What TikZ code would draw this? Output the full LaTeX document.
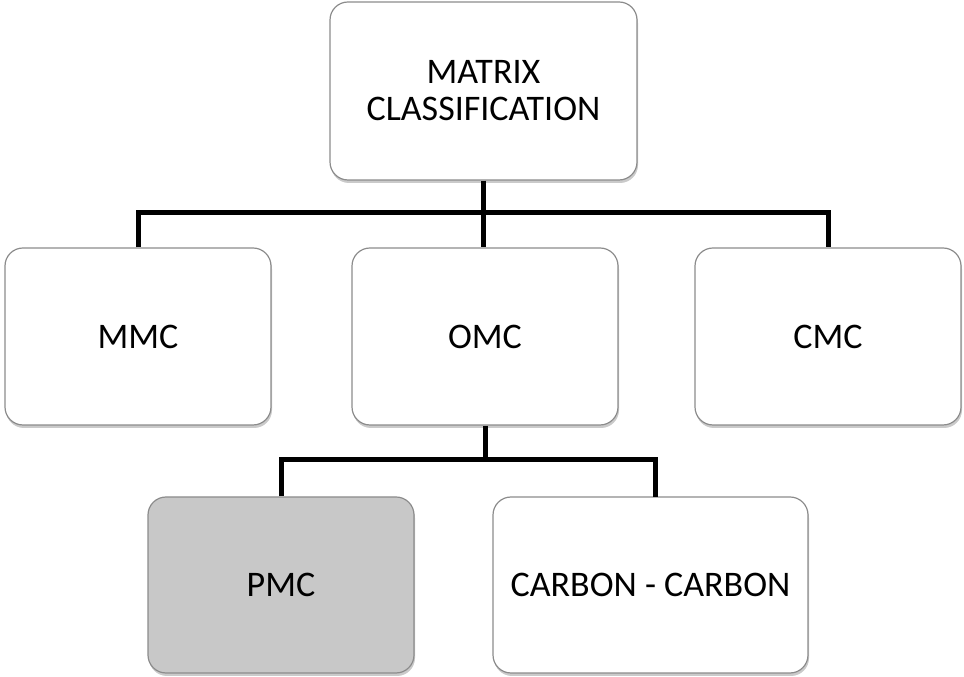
\documentclass[tikz,border=0pt]{standalone}
\usepackage{fontspec}
\setmainfont{Carlito}
\usetikzlibrary{shadows}
\definecolor{boxline}{HTML}{8C8C8C}
\definecolor{pmcgray}{HTML}{C8C8C8}

\begin{document}
\begin{tikzpicture}[x=1pt,y=1pt,
		box/.style={draw=boxline, line width=1.2pt, fill=white, rounded corners=18pt,
			minimum width=266pt, minimum height=177pt, align=center,
			font=\fontsize{36}{37}\selectfont,
			drop shadow={shadow xshift=1pt, shadow yshift=-3pt, opacity=0.35, fill=black!60}},
		link/.style={line width=5pt}]
				\useasboundingbox (0,0) rectangle (964,677);
				
				\node[box, minimum width=307pt, minimum height=178pt] (root) at (483.5,586) {MATRIX\\CLASSIFICATION};
				
				\node[box] (mmc) at (138,340.5) {MMC};
				\node[box] (omc) at (485,340.5) {OMC};
				\node[box] (cmc) at (828,340.5) {CMC};
				
				\node[box, fill=pmcgray, minimum height=176pt] (pmc) at (281,92) {PMC};
				\node[box, minimum width=315pt, minimum height=176pt] (cc) at (650.5,92) {CARBON - CARBON};
				
				\coordinate (bus1) at (0,464);
				\coordinate (bus2) at (0,217);
				\coordinate (ccin) at (655,180);
				
				\draw[link] (root.south) -- (root.south |- omc.north);
				\draw[link] (mmc.north) -- (mmc.north |- bus1) -- (cmc.north |- bus1) -- (cmc.north);
				
				\draw[link] (omc.south) -- (omc.south |- bus2);
				\draw[link] (pmc.north) -- (pmc.north |- bus2) -- (ccin |- bus2) -- (ccin);
			\end{tikzpicture}
\end{document}
